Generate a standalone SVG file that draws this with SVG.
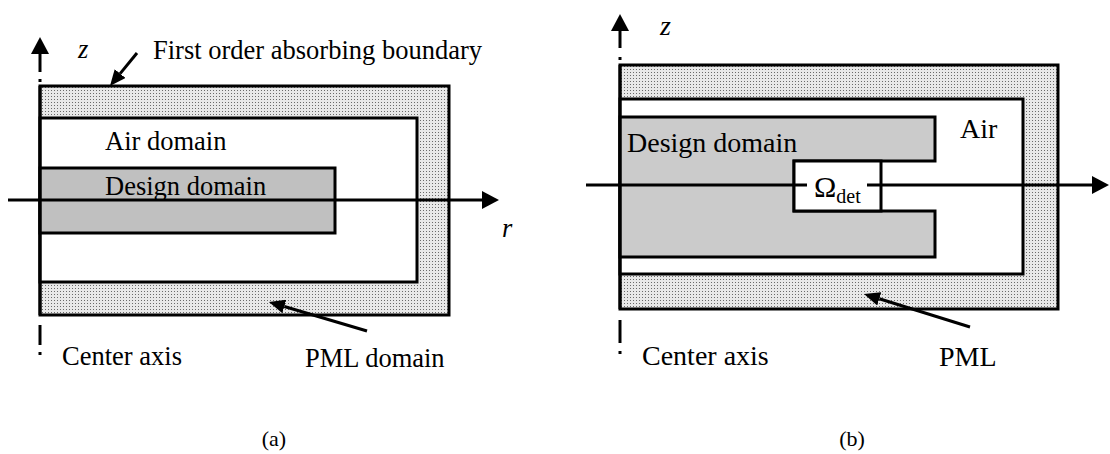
<svg xmlns="http://www.w3.org/2000/svg" width="1110" height="454" viewBox="0 0 1110 454">
  <style>
    .edge { stroke: #000; stroke-width: 3; }
    .box { stroke: #000; stroke-width: 3; }
    .pml { fill: url(#stipple); }
    .air { fill: #fff; }
    .design-a { fill: #c0c0c0; }
    .design-b { fill: #cbcbcb; }
    .lbl { font-family: "Liberation Serif", "Times New Roman", serif; fill: #000; }
    .la { font-size: 26.5px; }
    .lb { font-size: 28px; }
    .it { font-style: italic; }
    .cap { font-family: "Liberation Serif", "Times New Roman", serif; font-size: 22px; text-anchor: middle; }
  </style>
  <defs>
    <pattern id="stipple" width="3" height="3" patternUnits="userSpaceOnUse">
      <rect width="3" height="3" fill="#e8e8e8"/>
      <rect width="1" height="1" fill="#6a6a6a"/>
    </pattern>
    <!-- axis arrowhead: drawn forward from the line end -->
    <marker id="axisHead" markerUnits="userSpaceOnUse" markerWidth="17" markerHeight="18" refX="0" refY="9" orient="auto">
      <path d="M0,0 L17,9 L0,18 z" fill="#000"/>
    </marker>
    <!-- leader arrowhead -->
    <marker id="leadHead" markerUnits="userSpaceOnUse" markerWidth="16" markerHeight="14" refX="0" refY="7" orient="auto">
      <path d="M0,0 L16,7 L0,14 z" fill="#000"/>
    </marker>
  </defs>

  <!-- ===== (a) ===== -->
  <g id="pml-a">
    <rect class="pml box" x="40" y="86" width="409" height="229"/>
  </g>
  <g id="air-a">
    <rect class="air box" x="40" y="118" width="377" height="164"/>
    <text class="lbl la" x="105" y="150">Air domain</text>
  </g>
  <g id="design-a">
    <rect class="design-a box" x="40" y="168" width="295" height="65"/>
    <text class="lbl la" x="105" y="195">Design domain</text>
  </g>

  <!-- ===== (b) ===== -->
  <g id="pml-b">
    <rect class="pml box" x="620" y="65" width="438" height="244"/>
  </g>
  <g id="air-b">
    <rect class="air box" x="620" y="99" width="403" height="175"/>
    <text class="lbl lb" x="960" y="138">Air</text>
  </g>
  <g id="design-b">
    <path class="design-b box" d="M620,117 H935 V161 H794 V211 H935 V257 H620 Z"/>
    <text class="lbl lb" x="627" y="152">Design domain</text>
  </g>
  <g id="detector-b">
    <rect class="air box" x="794" y="161" width="87" height="50"/>
    <text class="lbl" font-size="30" x="814" y="197">Ω<tspan font-size="20" dy="6">det</tspan></text>
  </g>

  <g id="connectors">
    <!-- (a) z axis -->
    <line class="edge" x1="40" y1="72" x2="40" y2="54" marker-end="url(#axisHead)"/>
    <rect x="38.5" y="79" width="3" height="3" fill="#000"/>
    <line class="edge" x1="40" y1="86" x2="40" y2="315"/>
    <line class="edge" x1="40" y1="325" x2="40" y2="345"/>
    <rect x="38.5" y="352" width="3" height="3" fill="#000"/>
    <!-- (a) r axis -->
    <line class="edge" x1="8" y1="200" x2="482" y2="200" marker-end="url(#axisHead)"/>
    <!-- (a) leaders -->
    <line class="edge" x1="137" y1="53" x2="120.1" y2="73.6" marker-end="url(#leadHead)"/>
    <line class="edge" x1="367" y1="331" x2="284.3" y2="306.5" marker-end="url(#leadHead)"/>

    <!-- (b) z axis -->
    <line class="edge" x1="620" y1="48" x2="620" y2="31" marker-end="url(#axisHead)"/>
    <rect x="618.5" y="57" width="3" height="3" fill="#000"/>
    <line class="edge" x1="620" y1="65" x2="620" y2="309"/>
    <line class="edge" x1="620" y1="320" x2="620" y2="343"/>
    <rect x="618.5" y="351" width="3" height="3" fill="#000"/>
    <!-- (b) r axis, broken around the detector label -->
    <line class="edge" x1="586" y1="185" x2="807" y2="185"/>
    <line class="edge" x1="867" y1="185" x2="1092" y2="185" marker-end="url(#axisHead)"/>
    <!-- (b) leader -->
    <line class="edge" x1="970" y1="327" x2="879.3" y2="298.8" marker-end="url(#leadHead)"/>
  </g>

  <g id="labels">
    <text class="lbl la it" x="78" y="58">z</text>
    <text class="lbl la" x="153" y="59">First order absorbing boundary</text>
    <text class="lbl la it" x="502" y="237">r</text>
    <text class="lbl la" x="62" y="365">Center axis</text>
    <text class="lbl la" x="305" y="367">PML domain</text>

    <text class="lbl lb it" x="660" y="35">z</text>
    <text class="lbl lb" x="642" y="365">Center axis</text>
    <text class="lbl lb" x="939" y="366">PML</text>

    <text class="cap" x="274" y="446">(a)</text>
    <text class="cap" x="852" y="446">(b)</text>
  </g>
</svg>
